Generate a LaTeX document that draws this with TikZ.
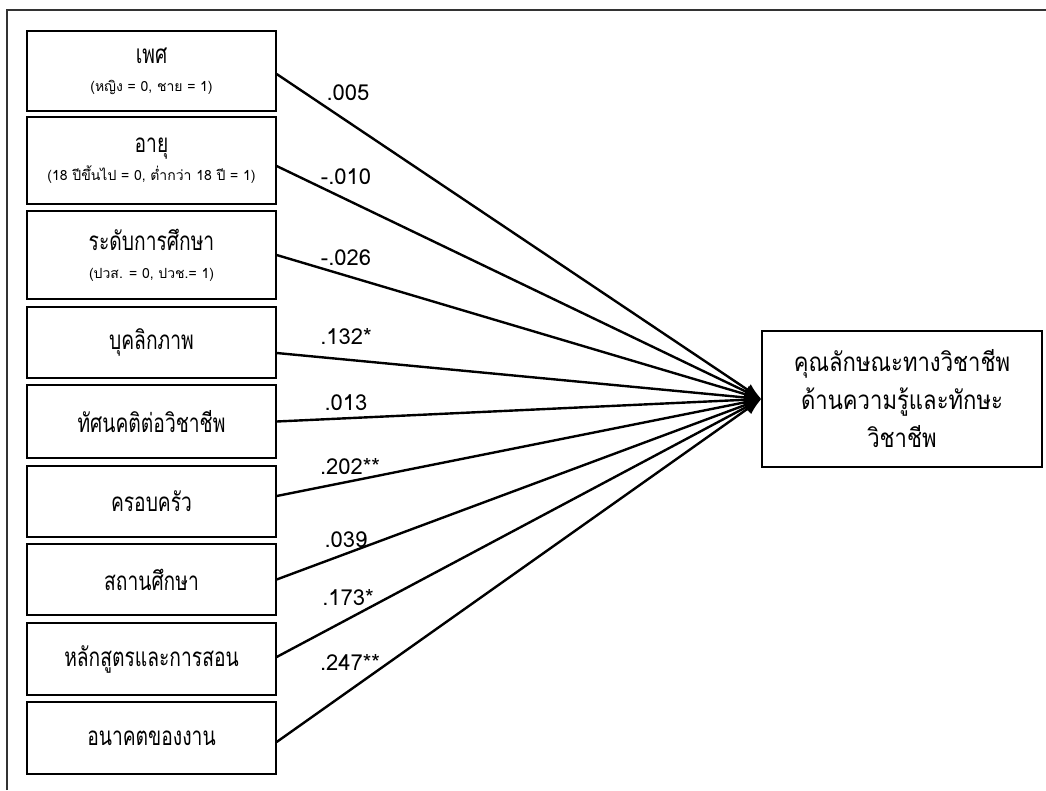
\documentclass[tikz,border=0pt]{standalone}
\usepackage{fontspec}
\setmainfont{Loma}[Script=Thai]
\newfontfamily\thainarrow{Loma}[Script=Thai,FakeStretch=0.74]
\newfontfamily\thaiwide{Loma}[Script=Thai,FakeStretch=0.85]
\usetikzlibrary{arrows.meta,positioning}

\newcommand{\subline}[1]{{\rmfamily\fontsize{14}{16}\selectfont #1}}

\begin{document}
\begin{tikzpicture}[x=1pt,y=-1pt,
  varbox/.style={draw,line width=1.3pt,minimum width=249pt,inner sep=2pt,align=center,font=\thainarrow\fontsize{26}{31}\selectfont},
  coefline/.style={line width=2.4pt,-{Latex[length=17pt,width=13pt]}},
  coef/.style={inner sep=0pt,font=\fontsize{22}{26}\selectfont}]
\useasboundingbox (0,0) rectangle (1046,790);
\draw[line width=1.4pt,black!80](7,790)--(7,10)--(1046,10);
% predictors
\node[varbox,minimum height=80pt](sex) at (151.5,71){เพศ\\[-3pt]\subline{(หญิง = 0, ชาย = 1)}};
\node[varbox,minimum height=87pt](age) at (151.5,160.5){อายุ\\[-3pt]\subline{(18 ปีขึ้นไป = 0, ต่ำกว่า 18 ปี = 1)}};
\node[varbox,minimum height=88pt](edu) at (151.5,255){ระดับการศึกษา\\[-3pt]\subline{(ปวส. = 0, ปวช.= 1)}};
\node[varbox,minimum height=71pt](pers) at (151.5,342.5){บุคลิกภาพ};
\node[varbox,minimum height=73pt](att) at (151.5,421.5){ทัศนคติต่อวิชาชีพ};
\node[varbox,minimum height=71pt](fam) at (151.5,501.5){ครอบครัว};
\node[varbox,minimum height=71pt](inst) at (151.5,579.5){สถานศึกษา};
\node[varbox,minimum height=72pt](curr) at (151.5,659){หลักสูตรและการสอน};
\node[varbox,minimum height=72pt](fut) at (151.5,738){อนาคตของงาน};
% outcome
\node[varbox,minimum width=280pt,minimum height=136pt,font=\thaiwide\fontsize{26}{38}\selectfont](comp) at (902,399){คุณลักษณะทางวิชาชีพ\\ด้านความรู้และทักษะ\\วิชาชีพ};
% paths
\foreach \src/\dy/\val/\lx/\ly in {sex/-3/.005/348/93,age/-5.5/-.010/346/177,edu/0/-.026/346/258,
  pers/-10.5/.132*/346/337,att/0/.013/346/403,fam/5.5/.202**/350/467,
  inst/0/.039/346/540,curr/2/.173*/348/598,fut/-4/.247**/350/662}
  \draw[coefline]([yshift=\dy pt]\src.east)--(comp.west)node[coef](c-\src) at (\lx,\ly){\val};
\end{tikzpicture}
\end{document}
